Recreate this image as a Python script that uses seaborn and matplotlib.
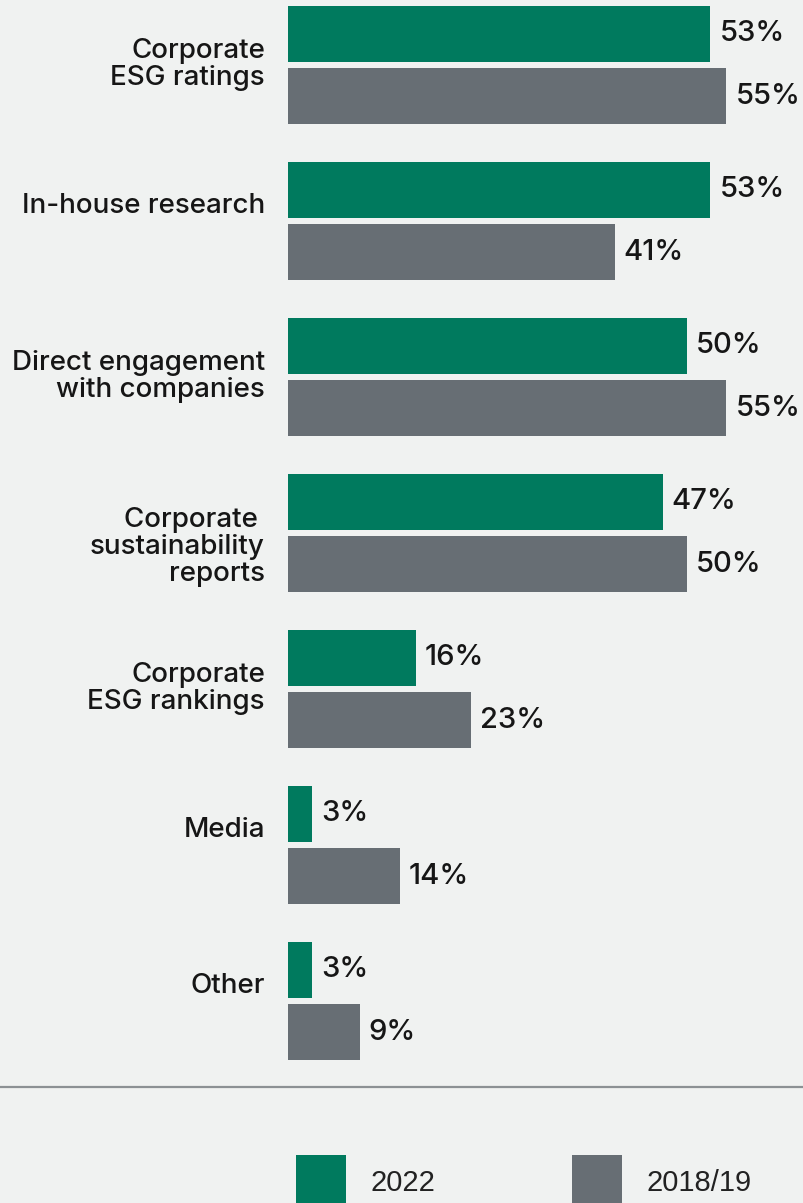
import matplotlib
matplotlib.use("Agg")
from matplotlib import pyplot as plt
from matplotlib.lines import Line2D
import numpy as np
import pandas as pd
import seaborn as sns

# data
categories = [
    "Corporate\nESG ratings",
    "In-house research",
    "Direct engagement\nwith companies",
    "Corporate \nsustainability\nreports",
    "Corporate\nESG rankings",
    "Media",
    "Other",
]
values_2022 = [53, 53, 50, 47, 16, 3, 3]
values_2018 = [55, 41, 55, 50, 23, 14, 9]
series_names = ["2022", "2018/19"]

GREEN = "#007A5E"
GREY = "#676E74"
BG = "#F0F2F1"
TXT = "#161616"

df = pd.DataFrame({
    "category": categories * 2,
    "value": values_2022 + values_2018,
    "year": [series_names[0]] * len(categories) + [series_names[1]] * len(categories),
})

sns.set_theme(style="white")
plt.rcParams["font.family"] = ["Inter", "Liberation Sans", "DejaVu Sans"]

W, H = 804, 1203
fig = plt.figure(figsize=(W / 100, H / 100), dpi=100, facecolor=BG)

# axes spans from bar origin (x=288px) to right edge, top to the rule line
px_per_unit = 7.97
rule_y = 1087
ax = fig.add_axes([288 / W, 1 - rule_y / H, 1 - 288 / W, rule_y / H])
ax.set_facecolor(BG)

sns.barplot(data=df, y="category", x="value", hue="year", orient="h",
            palette=[GREEN, GREY], hue_order=series_names, order=categories,
            width=0.795, gap=0.097, saturation=1, legend=False, linewidth=0, ax=ax)

ax.set_xlim(0, (W - 288) / px_per_unit)
# category i centred at 65 + 156*i pixels
ax.set_ylim((rule_y - 65) / 156, -65 / 156)
ax.set_xticks([])
ax.set_yticks([])
ax.set_xlabel("")
ax.set_ylabel("")
for s in ax.spines.values():
    s.set_visible(False)

# value labels
for cont, vals in zip(ax.containers, [values_2022, values_2018]):
    ax.bar_label(cont, labels=[f"{v}%" for v in vals], padding=6.5,
                 fontsize=21, fontweight="medium", color=TXT, clip_on=False)

# category labels, first line sits ~15px above group centre
for i, cat in enumerate(categories):
    n = cat.count("\n") + 1
    dy = -15 + (n - 1) * 14.5
    ax.annotate(cat, xy=(0, i), xycoords=("axes fraction", "data"),
                xytext=(-23, -dy), textcoords="offset pixels",
                ha="right", va="center", multialignment="right",
                fontsize=20, fontweight="medium", color=TXT, linespacing=1.05)

# rule under the chart
fig.add_artist(Line2D([0, 1], [1 - rule_y / H] * 2, transform=fig.transFigure,
                      color="#8C9194", lw=1.6))

# legend
handles = [plt.Rectangle((0, 0), 1, 1, color=c, lw=0) for c in [GREEN, GREY]]
fs = 21
em = fs * 100 / 72
leg = fig.legend(handles, series_names, loc="center left",
                 bbox_to_anchor=(296 / W, 1 - 1182 / H), ncol=2, frameon=False,
                 prop={"family": ["Liberation Sans"], "size": fs},
                 handlelength=50 / em, handleheight=72 / em,
                 handletextpad=25 / em, columnspacing=136 / em,
                 borderpad=0, borderaxespad=0)
for t in leg.get_texts():
    t.set_color("#222222")

fig.savefig("out.png", dpi=100, facecolor=BG)
